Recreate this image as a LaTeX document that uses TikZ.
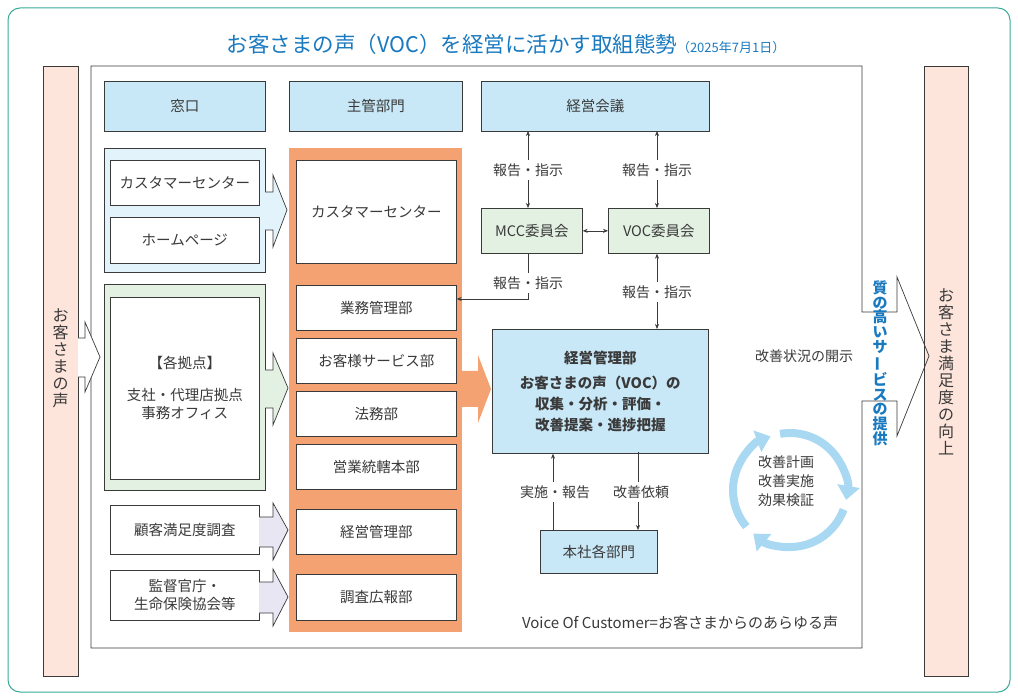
\documentclass[tikz,border=0pt]{standalone}
\usepackage{fontspec}
\setmainfont{Noto Sans CJK JP}
\usetikzlibrary{arrows.meta}
\definecolor{txt}{HTML}{3A3A3A}
\definecolor{hdr}{HTML}{C9E8F7}
\definecolor{bgrp}{HTML}{E3F3FB}
\definecolor{ggrp}{HTML}{E3F1E3}
\definecolor{org}{HTML}{F5A272}
\definecolor{pinkb}{HTML}{FDE5DC}
\definecolor{lav}{HTML}{E8E6F3}
\definecolor{ttl}{HTML}{1A7AC0}
\definecolor{teal}{HTML}{3AAA9A}
\definecolor{cyc}{HTML}{A8D8F2}
\begin{document}
\begin{tikzpicture}[x=1pt,y=-1pt,
  every node/.style={text=txt,font=\fontsize{14.5}{18}\selectfont},
  bx/.style={draw=txt,line width=0.7pt,inner sep=0,align=center},
  lbl/.style={font=\fontsize{14}{16}\selectfont},
  ar/.style={draw=txt,line width=0.6pt,-{Stealth[length=5pt,width=4pt]}},
  dar/.style={draw=txt,line width=0.6pt,{Stealth[length=5pt,width=4pt]}-{Stealth[length=5pt,width=4pt]}},
  ol/.style={draw=txt,line width=0.7pt}]
\useasboundingbox (0,0) rectangle (1018,700);
\fill[white] (0,0) rectangle (1018,700);
\draw[teal,line width=1pt,rounded corners=12pt] (8,8) rectangle (1010,692);
\node[text=ttl,font=\fontsize{21.5}{24}\selectfont] (title) at (506,44) {お客さまの声（VOC）を経営に活かす取組態勢\fontsize{13}{14}\selectfont（2025年7月1日）};
% side bars
\node[bx,fill=pinkb,minimum width=35,minimum height=610,anchor=north west] (lbar) at (43,66) {};
\node[align=center,anchor=north,font=\fontsize{16}{17}\selectfont] (ltxt) at (60.5,305) {お\\客\\さ\\ま\\の\\声};
\node[bx,fill=pinkb,minimum width=44,minimum height=610,anchor=north west] (rbar) at (924,66) {};
\node[align=center,anchor=north,font=\fontsize{16}{17}\selectfont] (rtxt) at (946,285) {お\\客\\さ\\ま\\満\\足\\度\\の\\向\\上};
% main frame with right arrow
\draw[ol] (862,312) -- (862,66) -- (91,66) -- (91,648) -- (862,648) -- (862,401) -- (897,401) -- (897,436) -- (929,356) -- (897,277) -- (897,312) -- cycle;
\fill[white] (863,313) rectangle (896,400);
\node[text=ttl,align=center,font=\bfseries\fontsize{15}{14.8}\selectfont,anchor=north] (svc) at (880,277) {質\\の\\高\\い\\サ\\\rotatebox[origin=c]{90}{ー}\\ビ\\ス\\の\\提\\供};
% left arrow
\draw[ol,fill=white] (78,338) -- (85,338) -- (85,322) -- (100,357) -- (85,392) -- (85,377) -- (78,377);
% headers
\node[bx,fill=hdr,minimum width=161,minimum height=50,anchor=north west] (h1) at (104,81) {窓口};
\node[bx,fill=hdr,minimum width=173,minimum height=50,anchor=north west] (h2) at (289,81) {主管部門};
\node[bx,fill=hdr,minimum width=228,minimum height=50,anchor=north west] (h3) at (481,81) {経営会議};
% blue group
\node[bx,fill=bgrp,minimum width=161,minimum height=124,anchor=north west] (bg) at (104,148) {};
\node[bx,fill=white,minimum width=149,minimum height=45,anchor=north west] (cc1) at (110,160) {カスタマーセンター};
\node[bx,fill=white,minimum width=149,minimum height=46,anchor=north west] (hp) at (110,217) {ホームページ};
\fill[bgrp] (265,192) -- (273,192) -- (273,175) -- (287,210) -- (273,247) -- (273,230) -- (265,230) -- cycle;
\draw[ol] (265,192) -- (273,192) -- (273,175) -- (287,210) -- (273,247) -- (273,230) -- (265,230);
% green group
\node[bx,fill=ggrp,minimum width=161,minimum height=206,anchor=north west] (gg) at (104,284) {};
\node[bx,fill=white,minimum width=149,minimum height=182,anchor=north west] (kyo) at (110,297) {【各拠点】\\[14pt]支社・代理店拠点\\事務オフィス};
\fill[ggrp] (265,370) -- (273,370) -- (273,353) -- (288,388) -- (273,425) -- (273,408) -- (265,408) -- cycle;
\draw[ol] (265,370) -- (273,370) -- (273,353) -- (288,388) -- (273,425) -- (273,408) -- (265,408);
% bottom boxes
\node[bx,fill=white,minimum width=149,minimum height=49,anchor=north west] (cs) at (110,505) {顧客満足度調査};
\node[bx,fill=white,minimum width=149,minimum height=50,anchor=north west] (kan) at (110,570) {監督官庁・\\生命保険協会等};
\draw[ol,fill=lav] (259,517) -- (273,517) -- (273,503) -- (288,530) -- (273,560) -- (273,547) -- (259,547);
\draw[ol,fill=lav] (259,582) -- (273,582) -- (273,569) -- (288,597) -- (273,626) -- (273,613) -- (259,613);
% orange column
\fill[org] (289,148) rectangle (462,632);
\foreach \n/\t/\a/\b in {o1/カスタマーセンター/160/263,o2/業務管理部/285/330,o3/お客様サービス部/338/383,o4/法務部/391/436,o5/営業統轄本部/444/489,o6/経営管理部/509/554,o7/調査広報部/574/620}
  \node[bx,fill=white,minimum width=160,minimum height=\b-\a,anchor=north west] (\n) at (296,\a) {\t};
\fill[org] (462,371) -- (478,371) -- (478,355) -- (491,389) -- (478,423) -- (478,407) -- (462,407) -- cycle;
% right side
\node[bx,fill=ggrp,minimum width=101,minimum height=45,anchor=north west] (mcc) at (481,208) {MCC委員会};
\node[bx,fill=ggrp,minimum width=101,minimum height=45,anchor=north west] (voc) at (608,208) {VOC委員会};
\node[bx,fill=hdr,minimum width=216,minimum height=124,anchor=north west,font=\bfseries\fontsize{14.5}{21}\selectfont] (keiei) at (492,329) {経営管理部\\[4pt]お客さまの声（VOC）の\\収集・分析・評価・\\改善提案・進捗把握};
\node[bx,fill=hdr,minimum width=117,minimum height=43,anchor=north west] (hon) at (540,530) {本社各部門};
\coordinate (m1) at (528,131); \coordinate (v1) at (657,131);
\draw[dar] (m1) -- (mcc.north -| m1);
\draw[dar] (v1) -- (voc.north -| v1);
\draw[dar] (mcc.east) -- (voc.west);
\coordinate (m2) at (528,299);
\draw[ar] (mcc.south -| m2) -- (m2) -- (o2.east |- m2);
\draw[dar] (voc.south -| v1) -- (keiei.north -| v1);
\coordinate (u1) at (553,530); \coordinate (d1) at (638,452);
\draw[ar] (u1) -- (keiei.south -| u1);
\draw[ar] (d1) -- (hon.north -| d1);
\node[lbl,fill=white] (l1) at (528,170) {報告・指示};
\node[lbl,fill=white] (l2) at (657,170) {報告・指示};
\node[lbl,fill=white] (l3) at (528,283) {報告・指示};
\node[lbl,fill=white] (l4) at (657,292) {報告・指示};
\node[lbl,fill=white] (l5) at (555,492) {実施・報告};
\node[lbl,fill=white] (l6) at (641,492) {改善依頼};
\node[lbl] (kai) at (804,356) {改善状況の開示};
% cycle
\foreach \s/\e in {-100/10,20/130,140/250}
  \draw[cyc,line width=8pt,-{Triangle[length=14pt,width=22pt]}] (790,490) ++(\s:57) arc[start angle=\s,end angle=\e,radius=57];
\node[align=center,font=\fontsize{14}{19}\selectfont] (cyt) at (786,481) {改善計画\\改善実施\\効果検証};
\node[font=\fontsize{15}{16}\selectfont] (foot) at (680,623) {Voice Of Customer=お客さまからのあらゆる声};
\end{tikzpicture}
\end{document}
